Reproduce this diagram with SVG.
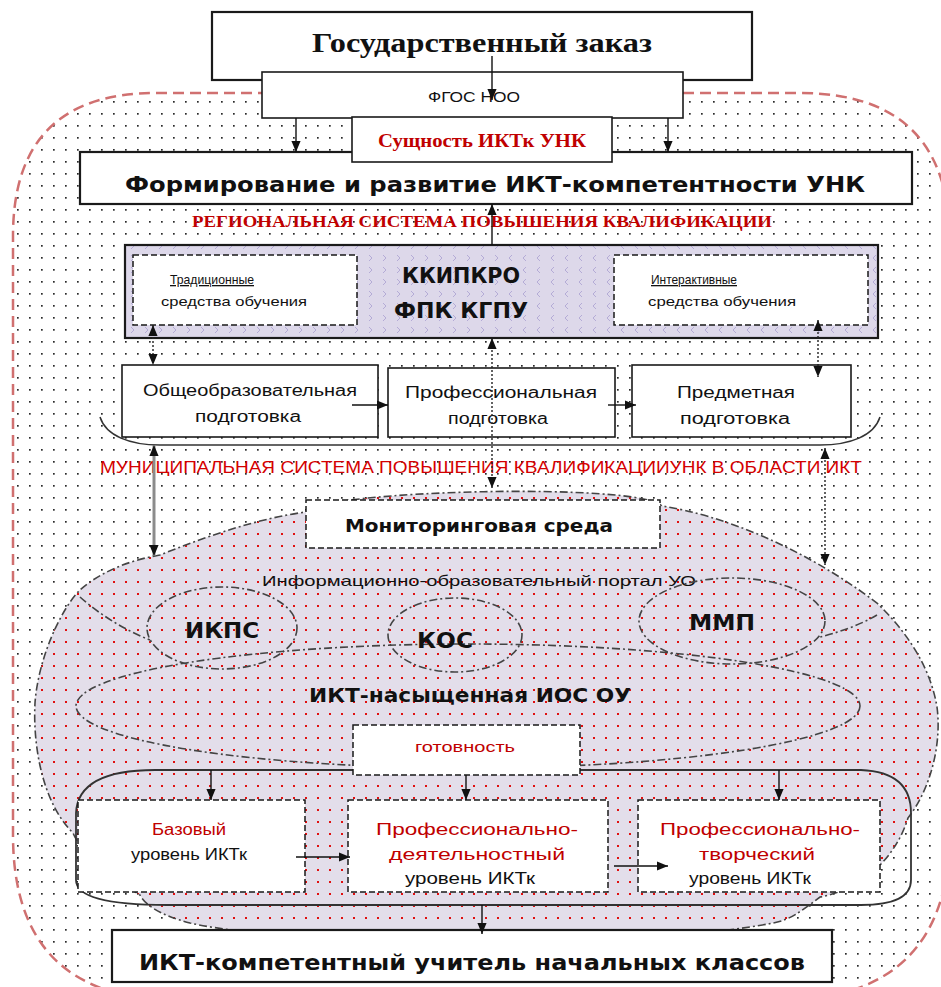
<svg xmlns="http://www.w3.org/2000/svg" width="941" height="987" viewBox="0 0 941 987">
  <style>
    .box { fill: #ffffff; stroke: #1a1a1a; stroke-width: 1.6; }
    .thick { fill: #ffffff; stroke: #1a1a1a; stroke-width: 2.2; }
    .dash { fill: #ffffff; stroke: #1a1a1a; stroke-width: 1.5; stroke-dasharray: 6 3; }
    .dashdot { fill: none; stroke: #444; stroke-width: 1.6; stroke-dasharray: 8 3 2 3; }
    .sans { font-family: "Liberation Sans", "DejaVu Sans", sans-serif; fill: #111; }
    .wide { font-family: "DejaVu Sans", "Verdana", sans-serif; font-weight: bold; fill: #111; }
    .serif { font-family: "Liberation Serif", "Times New Roman", serif; }
    .red { fill: #c00000; }
    .bright { fill: #d40000; }
    .conn { stroke: #111; stroke-width: 1.4; fill: none; }
    .dotted { stroke: #222; stroke-width: 1.4; stroke-dasharray: 2 2; fill: none; }
  </style>
  <defs>
    <pattern id="dotsBlack" width="12" height="12" patternUnits="userSpaceOnUse">
      <rect x="5" y="5" width="1.7" height="1.7" fill="#2a2a2a"/>
    </pattern>
    <pattern id="dotsRed" width="12" height="12" patternUnits="userSpaceOnUse">
      <rect width="12" height="12" fill="#e3deea"/>
      <rect x="5" y="5" width="2" height="2" fill="#e01010"/>
    </pattern>
    <pattern id="chevR" width="14" height="12" patternUnits="userSpaceOnUse">
      <rect width="14" height="12" fill="#ddd8ea"/>
      <path d="M5,3 L8,6 L5,9" stroke="#aa9fd0" stroke-width="0.8" fill="none"/>
    </pattern>
    <pattern id="chevL" width="14" height="12" patternUnits="userSpaceOnUse">
      <rect width="14" height="12" fill="#ddd8ea"/>
      <path d="M8,3 L5,6 L8,9" stroke="#aa9fd0" stroke-width="0.8" fill="none"/>
    </pattern>
    <marker id="ah" viewBox="0 0 12 10" markerWidth="11" markerHeight="10" refX="12" refY="5" orient="auto-start-reverse" markerUnits="userSpaceOnUse">
      <path d="M0,0 L12,5 L0,10 Z" fill="#111"/>
    </marker>
  </defs>

  <!-- outer dotted area with red dashed border -->
  <g id="region">
    <path d="M156,93 L800,93 Q950,93 950,243 L950,830 Q950,1000 780,1000 L178,1000 Q13,1000 13,835 L13,236 Q13,93 156,93 Z" fill="#ffffff"/>
    <path d="M156,93 L800,93 Q950,93 950,243 L950,830 Q950,1000 780,1000 L178,1000 Q13,1000 13,835 L13,236 Q13,93 156,93 Z" fill="url(#dotsBlack)" stroke="#d07070" stroke-width="2.5" stroke-dasharray="11 6"/>
  </g>

  <g id="gos-zakaz">
    <rect class="thick" x="212" y="12" width="540" height="68"/>
    <text class="serif" x="482" y="52" font-size="27" font-weight="bold" text-anchor="middle" textLength="340" lengthAdjust="spacingAndGlyphs" fill="#111">Государственный заказ</text>
  </g>

  <g id="fgos">
    <rect class="box" x="262" y="72" width="421" height="46"/>
    <text class="sans" x="474" y="102" font-size="14" text-anchor="middle" textLength="92" lengthAdjust="spacingAndGlyphs">ФГОС НОО</text>
  </g>

  <g id="formirovanie">
    <rect class="thick" x="80" y="152" width="832" height="52"/>
    <text class="wide" x="495" y="192" font-size="22" text-anchor="middle" textLength="740" lengthAdjust="spacingAndGlyphs">Формирование и развитие ИКТ-компетентности УНК</text>
  </g>

  <g id="sushchnost">
    <rect class="box" x="352" y="117" width="260" height="45"/>
    <text class="serif red" x="482" y="147" font-size="18" font-weight="bold" text-anchor="middle" textLength="208" lengthAdjust="spacingAndGlyphs">Сущность ИКТк УНК</text>
  </g>

  <g id="regional-label">
    <text class="serif red" x="482" y="227" font-size="17" font-weight="bold" text-anchor="middle" textLength="580" lengthAdjust="spacingAndGlyphs">РЕГИОНАЛЬНАЯ  СИСТЕМА ПОВЫШЕНИЯ КВАЛИФИКАЦИИ</text>
  </g>

  <g id="kkipkro">
    <rect x="125" y="245" width="376" height="93" fill="url(#chevR)"/>
    <rect x="501" y="245" width="377" height="93" fill="url(#chevL)"/>
    <rect x="125" y="245" width="753" height="93" fill="none" stroke="#1a1a1a" stroke-width="2.2"/>
    <text class="wide" x="461" y="283" font-size="21" text-anchor="middle" textLength="118" lengthAdjust="spacingAndGlyphs">ККИПКРО</text>
    <text class="wide" x="461" y="318" font-size="21" text-anchor="middle" textLength="134" lengthAdjust="spacingAndGlyphs">ФПК КГПУ</text>
  </g>

  <g id="traditional">
    <rect class="dash" x="133" y="255" width="224" height="70"/>
    <text class="sans" x="212" y="284" font-size="13" text-anchor="middle" text-decoration="underline" textLength="84" lengthAdjust="spacingAndGlyphs">Традиционные</text>
    <text class="sans" x="234" y="306" font-size="13" text-anchor="middle" textLength="146" lengthAdjust="spacingAndGlyphs">средства  обучения</text>
  </g>

  <g id="interactive">
    <rect class="dash" x="614" y="255" width="254" height="70"/>
    <text class="sans" x="694" y="284" font-size="13" text-anchor="middle" text-decoration="underline" textLength="86" lengthAdjust="spacingAndGlyphs">Интерактивные</text>
    <text class="sans" x="722" y="306" font-size="13" text-anchor="middle" textLength="148" lengthAdjust="spacingAndGlyphs">средства  обучения</text>
  </g>

  <g id="obshcheobr">
    <rect class="box" x="122" y="365" width="256" height="72"/>
    <text class="sans" x="250" y="396" font-size="16" text-anchor="middle" textLength="214" lengthAdjust="spacingAndGlyphs">Общеобразовательная</text>
    <text class="sans" x="248" y="422" font-size="16" text-anchor="middle" textLength="106" lengthAdjust="spacingAndGlyphs">подготовка</text>
  </g>

  <g id="professional">
    <rect class="box" x="388" y="368" width="227" height="69"/>
    <text class="sans" x="501" y="398" font-size="16" text-anchor="middle" textLength="192" lengthAdjust="spacingAndGlyphs">Профессиональная</text>
    <text class="sans" x="498" y="424" font-size="16" text-anchor="middle" textLength="100" lengthAdjust="spacingAndGlyphs">подготовка</text>
  </g>

  <g id="predmetnaya">
    <rect class="box" x="632" y="365" width="219" height="72"/>
    <text class="sans" x="736" y="398" font-size="16" text-anchor="middle" textLength="118" lengthAdjust="spacingAndGlyphs">Предметная</text>
    <text class="sans" x="735" y="424" font-size="16" text-anchor="middle" textLength="110" lengthAdjust="spacingAndGlyphs">подготовка</text>
  </g>

  <!-- brace under the three kinds of training -->
  <path id="training-brace" d="M100,417 C106,436 130,445 160,445 L820,445 C850,445 874,436 880,417" fill="none" stroke="#333" stroke-width="1.5"/>

  <g id="municipal-label">
    <text class="sans bright" x="481" y="473" font-size="16" text-anchor="middle" textLength="762" lengthAdjust="spacingAndGlyphs">МУНИЦИПАЛЬНАЯ СИСТЕМА ПОВЫШЕНИЯ КВАЛИФИКАЦИИУНК В ОБЛАСТИ ИКТ</text>
  </g>

  <!-- cloud: informational-educational environment -->
  <g id="cloud">
    <path d="M306,512 C320,490 640,482 662,506 C720,515 800,545 877,603 C905,630 930,665 937,707 C942,745 930,790 908,818 C895,860 860,890 820,897 C800,912 790,920 773,923 C650,948 300,948 190,923 C160,915 145,905 140,895 C100,870 80,850 73,833 C40,800 33,740 35,703 C38,660 60,610 80,590 C100,572 130,560 160,555 C210,535 260,518 306,512 Z" fill="url(#dotsRed)" stroke="#444" stroke-width="1.6" stroke-dasharray="8 3 2 3"/>
    <path class="dashdot" d="M80,597 C100,615 125,630 150,640"/>
    <path class="dashdot" d="M877,615 C860,625 840,632 820,637"/>
    <text class="sans" x="479" y="586" font-size="15" text-anchor="middle" textLength="434" lengthAdjust="spacingAndGlyphs">Информационно-образовательный портал УО</text>
  </g>

  <g id="ios-ou">
    <ellipse class="dashdot" cx="468" cy="706" rx="392" ry="62"/>
    <text class="wide" x="470" y="702" font-size="20" text-anchor="middle" textLength="322" lengthAdjust="spacingAndGlyphs">ИКТ-насыщенная ИОС ОУ</text>
  </g>

  <g id="ikps">
    <ellipse class="dashdot" cx="222" cy="628" rx="75" ry="41"/>
    <text class="wide" x="222" y="638" font-size="21" text-anchor="middle" textLength="74" lengthAdjust="spacingAndGlyphs">ИКПС</text>
  </g>

  <g id="kos">
    <ellipse class="dashdot" cx="455" cy="635" rx="67" ry="37"/>
    <text class="wide" x="445" y="648" font-size="21" text-anchor="middle" textLength="56" lengthAdjust="spacingAndGlyphs">КОС</text>
  </g>

  <g id="mmp">
    <ellipse class="dashdot" cx="732" cy="621" rx="93" ry="43"/>
    <text class="wide" x="722" y="630" font-size="21" text-anchor="middle" textLength="66" lengthAdjust="spacingAndGlyphs">ММП</text>
  </g>

  <g id="monitoring">
    <rect class="dash" x="306" y="500" width="354" height="48"/>
    <text class="wide" x="479" y="532" font-size="18" text-anchor="middle" textLength="268" lengthAdjust="spacingAndGlyphs">Мониторинговая  среда</text>
  </g>

  <!-- frame around the ICT competence levels -->
  <path id="levels-frame" d="M155,770 L861,770 Q911,772 911,813 L911,880 Q911,905 861,905 L167,905 Q76,905 76,880 L76,813 Q78,770 155,770 Z" fill="none" stroke="#333" stroke-width="1.8"/>

  <g id="gotovnost">
    <rect class="dash" x="353" y="725" width="227" height="50"/>
    <text class="sans red" x="465" y="752" font-size="15" text-anchor="middle" textLength="100" lengthAdjust="spacingAndGlyphs">готовность</text>
  </g>

  <g id="level-base">
    <rect class="dash" x="78" y="800" width="227" height="92"/>
    <text class="sans red" x="189" y="835" font-size="16" text-anchor="middle" textLength="74" lengthAdjust="spacingAndGlyphs">Базовый</text>
    <text class="sans" x="189" y="860" font-size="16" text-anchor="middle" textLength="116" lengthAdjust="spacingAndGlyphs">уровень ИКТк</text>
  </g>

  <g id="level-activity">
    <rect class="dash" x="348" y="800" width="260" height="92"/>
    <text class="sans red" x="477" y="835" font-size="16" text-anchor="middle" textLength="202" lengthAdjust="spacingAndGlyphs">Профессионально-</text>
    <text class="sans red" x="477" y="860" font-size="16" text-anchor="middle" textLength="176" lengthAdjust="spacingAndGlyphs">деятельностный</text>
    <text class="sans" x="470" y="884" font-size="16" text-anchor="middle" textLength="130" lengthAdjust="spacingAndGlyphs">уровень ИКТк</text>
  </g>

  <g id="level-creative">
    <rect class="dash" x="638" y="800" width="242" height="92"/>
    <text class="sans red" x="760" y="835" font-size="16" text-anchor="middle" textLength="200" lengthAdjust="spacingAndGlyphs">Профессионально-</text>
    <text class="sans red" x="757" y="860" font-size="16" text-anchor="middle" textLength="116" lengthAdjust="spacingAndGlyphs">творческий</text>
    <text class="sans" x="750" y="884" font-size="16" text-anchor="middle" textLength="122" lengthAdjust="spacingAndGlyphs">уровень ИКТк</text>
  </g>

  <g id="teacher">
    <rect class="thick" x="112" y="930" width="720" height="52"/>
    <text class="wide" x="472" y="970" font-size="22" text-anchor="middle" textLength="666" lengthAdjust="spacingAndGlyphs">ИКТ-компетентный учитель начальных классов</text>
  </g>

  <g id="connectors">
    <!-- order and standard -->
    <line class="conn" x1="492" y1="56" x2="492" y2="100" marker-end="url(#ah)"/>
    <line class="conn" x1="296" y1="118" x2="296" y2="152" marker-end="url(#ah)"/>
    <line class="conn" x1="668" y1="118" x2="668" y2="152" marker-end="url(#ah)"/>
    <line class="conn" x1="492" y1="245" x2="492" y2="204" marker-end="url(#ah)"/>
    <!-- training chain -->
    <line class="conn" x1="352" y1="405" x2="388" y2="405" marker-end="url(#ah)"/>
    <line class="conn" x1="608" y1="405" x2="636" y2="405" marker-end="url(#ah)"/>
    <!-- two-way links -->
    <line class="dotted" x1="153" y1="325" x2="153" y2="365" marker-start="url(#ah)" marker-end="url(#ah)"/>
    <line class="dotted" x1="818" y1="320" x2="818" y2="377" marker-start="url(#ah)" marker-end="url(#ah)"/>
    <line class="dotted" x1="492" y1="338" x2="492" y2="488" marker-start="url(#ah)" marker-end="url(#ah)"/>
    <line x1="154" y1="445" x2="154" y2="556" stroke="#8c8c8c" stroke-width="3" marker-start="url(#ah)" marker-end="url(#ah)"/>
    <line class="dotted" x1="825" y1="448" x2="825" y2="565" marker-start="url(#ah)" marker-end="url(#ah)"/>
    <!-- readiness to levels -->
    <line class="conn" x1="211" y1="770" x2="211" y2="800" marker-end="url(#ah)"/>
    <line class="conn" x1="466" y1="775" x2="466" y2="800" marker-end="url(#ah)"/>
    <line class="conn" x1="779" y1="770" x2="779" y2="800" marker-end="url(#ah)"/>
    <!-- level progression -->
    <line class="conn" x1="296" y1="857" x2="350" y2="857" marker-end="url(#ah)"/>
    <line class="conn" x1="614" y1="866" x2="668" y2="866" marker-end="url(#ah)"/>
    <!-- result -->
    <line class="conn" x1="482" y1="905" x2="482" y2="934" marker-end="url(#ah)"/>
  </g>
</svg>
